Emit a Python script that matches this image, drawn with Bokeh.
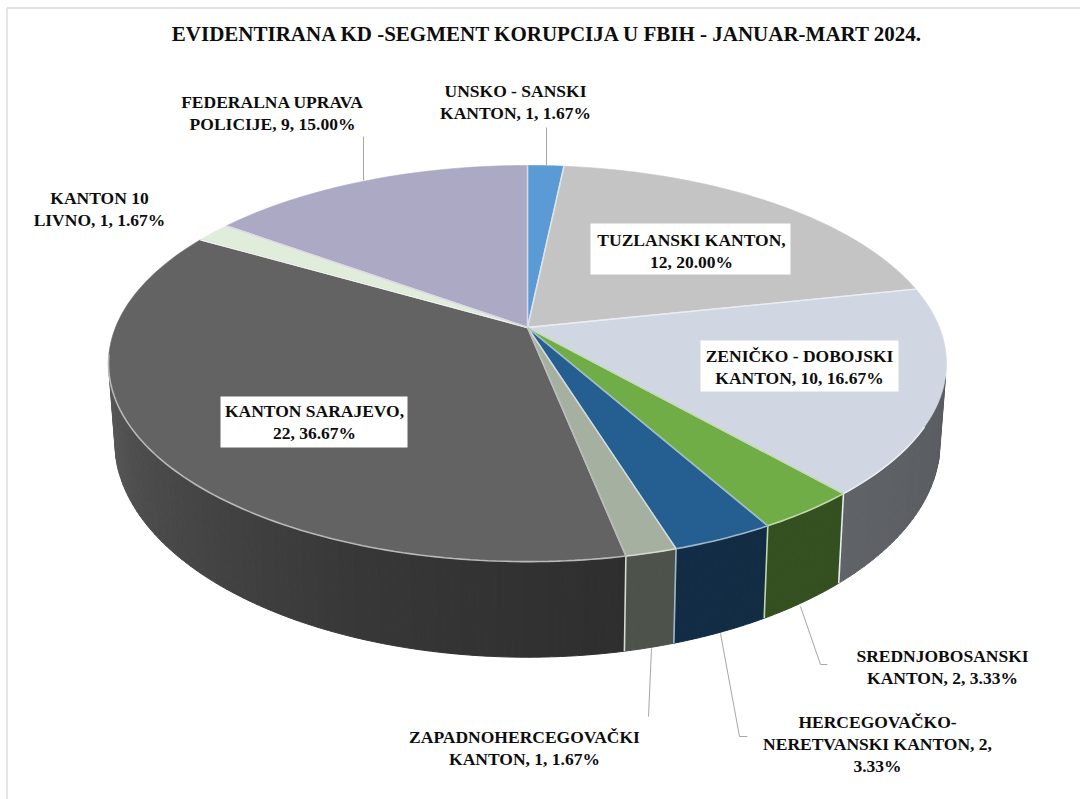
import numpy as np
from bokeh.plotting import figure
from bokeh.embed import file_html
from bokeh.resources import INLINE
from bokeh.core.properties import value
from bokeh.models import Range1d

# --- data -----------------------------------------------------------------
names = ["UNSKO - SANSKI KANTON", "TUZLANSKI KANTON", "ZENIČKO - DOBOJSKI KANTON",
         "SREDNJOBOSANSKI KANTON", "HERCEGOVAČKO-NERETVANSKI KANTON",
         "ZAPADNOHERCEGOVAČKI KANTON", "KANTON SARAJEVO", "KANTON 10 LIVNO",
         "FEDERALNA UPRAVA POLICIJE"]
counts = [1, 12, 10, 2, 2, 1, 22, 1, 9]
colors = ["#5b9bd5", "#c4c4c4", "#d0d7e2", "#70ad47", "#255e91",
          "#a5b0a0", "#636363", "#e0edda", "#aba9c3"]
title = "EVIDENTIRANA KD -SEGMENT KORUPCIJA U FBIH - JANUAR-MART 2024."
label_lines = [
    ["UNSKO - SANSKI", "KANTON, 1, 1.67%"],
    ["TUZLANSKI KANTON,", "12, 20.00%"],
    ["ZENIČKO - DOBOJSKI", "KANTON, 10, 16.67%"],
    ["SREDNJOBOSANSKI", "KANTON, 2, 3.33%"],
    ["HERCEGOVAČKO-", "NERETVANSKI KANTON, 2,", "3.33%"],
    ["ZAPADNOHERCEGOVAČKI", "KANTON, 1, 1.67%"],
    ["KANTON SARAJEVO,", "22, 36.67%"],
    ["KANTON 10", "LIVNO, 1, 1.67%"],
    ["FEDERALNA UPRAVA", "POLICIJE, 9, 15.00%"],
]
label_cx = [515, 691, 799, 942, 877, 524, 314, 99, 272]
label_base = [90.5, 239, 355.5, 655.5, 721.5, 736.5, 410.5, 197.5, 101]
boxes = {1: (590, 790, 223, 274), 2: (700, 898, 340, 391), 6: (220, 407, 396, 447)}
leaders = [
    ([546, 546], [127, 165]),
    ([800, 820, 827], [606, 664, 664]),
    ([720, 739, 747], [633, 736, 736]),
    ([651, 648], [648, 716]),
    ([363, 363], [136, 180]),
]

# --- projection: a tilted disc seen in perspective ----------------------------
FX = 527.0; FY = 327.0; A = 412.0; B = 191.5; K = 0.182
W = 1080; H = 799
FONT = "Liberation Serif"

def px(x): return np.asarray(x, float)
def py(y): return H - np.asarray(y, float)

def top(t):
    t = t + np.radians(0.7) * np.maximum(0, -np.cos(t))
    u, v = np.sin(t), -np.cos(t)
    den = 1 - K * v
    return FX + A * u / den, FY + B * v / den

def bot(t):
    x, y = top(t)
    return FX + 0.985 * (x - FX), FY + 75 + 1.088 * (y - FY)

def shade(deg):
    return np.interp(deg, [100, 138, 170, 200, 260], [0.42, 0.46, 0.47, 0.56, 0.9])

def mix(col, f, to=0):
    c = np.array([int(col[i:i + 2], 16) for i in (1, 3, 5)], float)
    c = c * f + to * (1 - f)
    return "#%02x%02x%02x" % tuple(int(round(a)) for a in c)

p = figure(width=W, height=H, output_backend="svg", toolbar_location=None,
           x_range=Range1d(0, W), y_range=Range1d(0, H), min_border=0)
p.axis.visible = False
p.grid.visible = False
p.outline_line_color = None
p.background_fill_color = "white"

# frame
p.multi_line(xs=[[6.5, 6.5], [6.5, W]], ys=[[0, H - 7.5], [H - 7.5, H - 7.5]],
             line_color="#d9d9d9", line_width=1.3)

edges = np.cumsum([0] + counts) / sum(counts) * 360.0
VIS0, VIS1 = 104.0, 256.0

# side wall, as thin strips so that it can carry the shading
sx, sy, sc = [], [], []
for i, col in enumerate(colors):
    a0, a1 = max(edges[i], VIS0), min(edges[i + 1], VIS1)
    if a1 <= a0:
        continue
    n = max(1, int(np.ceil((a1 - a0) / 1.0)))
    ang = np.linspace(a0, a1, n + 1)
    for d0, d1 in zip(ang[:-1], ang[1:]):
        dd = np.radians(np.linspace(d0, d1, 3))
        tx, ty = top(dd); bx, by = bot(dd)
        sx.append(px(np.r_[tx, bx[::-1]])); sy.append(py(np.r_[ty, by[::-1]]))
        sc.append(mix(col, float(shade((d0 + d1) / 2))))
p.patches(sx, sy, fill_color=sc, line_color=sc, line_width=1.0)

# light vertical seams on the wall
for i, col in enumerate(colors):
    d = edges[i + 1]
    if VIS0 < d < VIS1:
        t = np.radians(d)
        tx, ty = top(t); bx, by = bot(t)
        p.line(px([tx, bx]), py([ty, by]), line_color=mix(col, 0.45, 255), line_width=1.6)

# top faces
for i, col in enumerate(colors):
    t = np.radians(np.linspace(edges[i], edges[i + 1], max(4, int(edges[i + 1] - edges[i]) + 2)))
    x, y = top(t)
    p.patch(px(np.r_[FX, x]), py(np.r_[FY, y]), fill_color=col,
            line_color=col, line_width=0.6, line_join="round")
# light edges: the radii of each slice and the front part of its rim
for i, col in enumerate(colors):
    tint = mix(col, 0.45, 255)
    for d in (edges[i], edges[i + 1]):
        x, y = top(np.radians(np.array([d])))
        p.line(px([FX, x[0]]), py([FY, y[0]]), line_color=tint, line_width=1.4)
    a0, a1 = max(edges[i], 118.0), min(edges[i + 1], 262.0)
    if a1 > a0:
        x, y = top(np.radians(np.linspace(a0, a1, int(a1 - a0) + 2)))
        p.line(px(x), py(y), line_color=tint, line_width=1.6)

# leaders
for lx, ly in leaders:
    p.line(px(lx), py(ly), line_color="#a6a6a6", line_width=1)

# label plates
for k, (x0, x1, y0, y1) in boxes.items():
    p.quad(left=[float(x0)], right=[float(x1)], top=[float(py(y0))], bottom=[float(py(y1))],
           fill_color="white", line_color=None)

# texts
tx, ty, tt = [], [], []
for lines, cx, b in zip(label_lines, label_cx, label_base):
    for j, s in enumerate(lines):
        tx.append(float(px(cx))); ty.append(float(py(b + j * 22.2))); tt.append(s)
p.text(tx, ty, text=tt, text_font=value(FONT), text_font_size="17.5px", text_font_style="bold",
       text_color="#0d0d0d", text_align="center", text_baseline="alphabetic")
p.text([547.5], [float(py(33.5))], text=[title], text_font=value(FONT),
       text_font_size="21px", text_font_style="bold", text_color="#0d0d0d",
       text_align="center", text_baseline="alphabetic")

open("out.html", "w").write(file_html(p, INLINE))
